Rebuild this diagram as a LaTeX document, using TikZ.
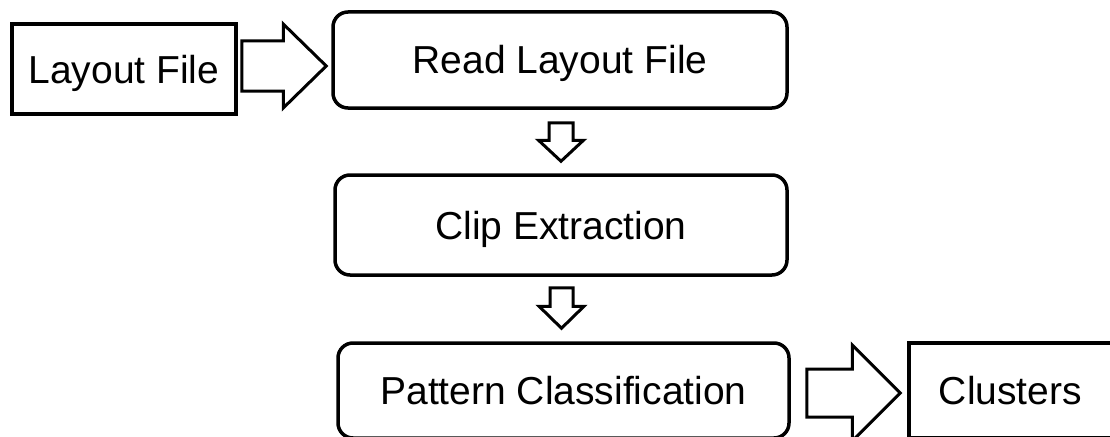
\documentclass[tikz,border=0pt]{standalone}
\usepackage{fontspec}
\setmainfont{Liberation Sans}
\usetikzlibrary{calc}

% Horizontal block arrow: #1 tail point, #2 tip point, #3 shaft half width,
% #4 head half width, #5 head length
\newcommand\hblock[5]{%
  \draw[blockarrow] let \p1=(#1), \p2=(#2) in
    (\x1,\y1+#3) -- (\x2-#5,\y1+#3) -- (\x2-#5,\y1+#4) -- (\x2,\y1)
    -- (\x2-#5,\y1-#4) -- (\x2-#5,\y1-#3) -- (\x1,\y1-#3) -- cycle;}
% Vertical (downward) block arrow, same arguments
\newcommand\vblock[5]{%
  \draw[blockarrow] let \p1=(#1), \p2=(#2) in
    (\x1-#3,\y1) -- (\x1-#3,\y2+#5) -- (\x1-#4,\y2+#5) -- (\x1,\y2)
    -- (\x1+#4,\y2+#5) -- (\x1+#3,\y2+#5) -- (\x1+#3,\y1) -- cycle;}

\begin{document}
\begin{tikzpicture}[x=1pt,y=-1pt,
  box/.style={draw, line width=3.5pt, inner sep=0pt, text height=28pt,
    text depth=0pt, font=\fontsize{39}{45}\selectfont},
  roundbox/.style={box, rounded corners=15pt},
  blockarrow/.style={draw, line width=3pt, line join=miter, fill=white}]
\clip (0,0) rectangle (1110,436);
\fill[white] (0,0) rectangle (1110,436);

% process boxes
\node[box, minimum width=224pt, minimum height=90pt] (layout) at (124,69) {Layout File};
\node[roundbox, minimum width=454pt, minimum height=96pt] (read) at (560,60) {Read Layout File};
\node[roundbox, minimum width=452pt, minimum height=100pt] (clip) at (561,225) {Clip Extraction};
\node[roundbox, minimum width=451pt, minimum height=95pt] (pattern) at (563.5,390.5) {Pattern Classification};
\node[box, minimum width=203pt, minimum height=95pt] (clusters) at (1010.5,390.5) {Clusters};

% block arrows between the boxes
\hblock{$(layout.east)+(4,-3)$}{$(read.west)+(-5,0)$}{25pt}{42pt}{43pt}
\vblock{$(read.south)+(1,13)$}{$(clip.north)+(0,-12)$}{12pt}{22.5pt}{21pt}
\vblock{$(clip.south)+(0.5,11)$}{$(pattern.north)+(0,-13)$}{11.5pt}{22.5pt}{22pt}
\hblock{$(pattern.east)+(16,2.5)$}{$(clusters.west)+(-7,0)$}{24pt}{48pt}{48pt}
\end{tikzpicture}
\end{document}
